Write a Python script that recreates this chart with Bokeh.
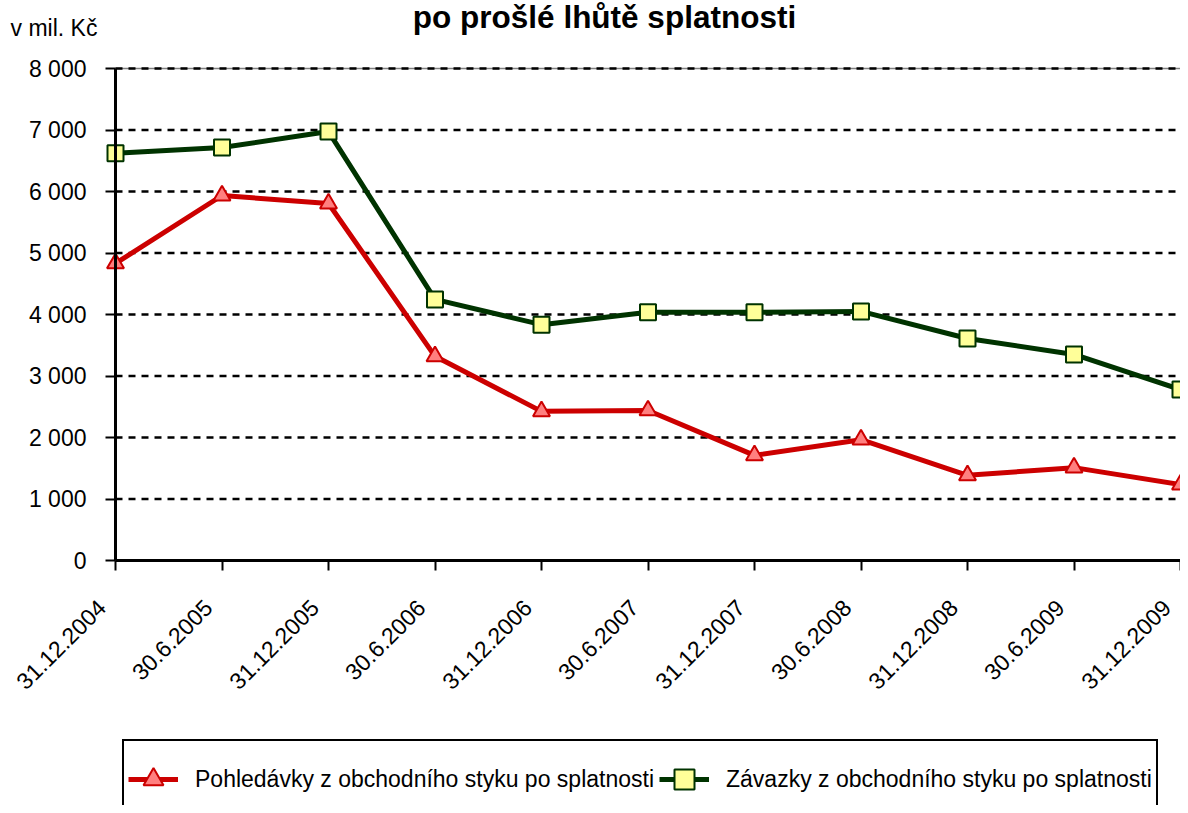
from bokeh.plotting import figure
from bokeh.models import Range1d, FixedTicker, Legend, LegendItem, Label, LinearAxis
from bokeh.core.properties import value
from bokeh.embed import file_html
from bokeh.resources import INLINE
import math

dates = ["31.12.2004", "30.6.2005", "31.12.2005", "30.6.2006", "31.12.2006",
         "30.6.2007", "31.12.2007", "30.6.2008", "31.12.2008", "30.6.2009", "31.12.2009"]
pohledavky = [4830, 5935, 5805, 3320, 2425, 2440, 1710, 1965, 1385, 1510, 1235]
zavazky = [6620, 6715, 6975, 4245, 3835, 4035, 4035, 4050, 3610, 3350, 2780]
y_ticks = [0, 1000, 2000, 3000, 4000, 5000, 6000, 7000, 8000]

label_p = "Pohledávky z obchodního styku po splatnosti"
label_z = "Závazky z obchodního styku po splatnosti"
title_text = "po prošlé lhůtě splatnosti"
unit_text = "v mil. Kč"

FONT = "Liberation Sans"
FS = "23px"
W, H = 1180, 805
xs = list(range(len(dates)))

# layout: the frame covers the whole canvas; axes sit at fixed locations
x0_px, x_step = 115, (W - 115) / (len(dates) - 1)
y0_px, y_scale = 560, (560 - 68) / 8000
x_start = -x0_px / x_step
y_end = y0_px / y_scale
y_start = -(H - y0_px) / y_scale

p = figure(width=W, height=H, output_backend="svg", toolbar_location=None,
           x_range=Range1d(x_start, len(dates) - 1), y_range=Range1d(y_start, y_end),
           x_axis_type=None, y_axis_type=None,
           min_border=0, min_border_left=0, min_border_right=0,
           min_border_top=0, min_border_bottom=0)
p.outline_line_color = None
p.background_fill_color = "white"
p.border_fill_color = "white"
p.grid.visible = False

# gridlines (dashed) across the plot area
grid_y = y_ticks[1:]
p.segment(x0=[0], x1=[len(dates) - 1], y0=[8000], y1=[8000],
          line_color="#808080", line_width=1.5)
p.segment(x0=[0] * len(grid_y), x1=[len(dates) - 1] * len(grid_y), y0=grid_y, y1=grid_y,
          line_color="black", line_width=2.5, line_dash="7 6")

# axes
xa = LinearAxis(fixed_location=0)
xa.ticker = FixedTicker(ticks=xs)
xa.major_label_text_font_size = "0px"
xa.major_label_text_color = None
xa.bounds = (0, len(dates) - 1)
xa.axis_line_width = 3
xa.major_tick_line_width = 2
xa.major_tick_out = 10
xa.major_tick_in = 0
xa.minor_tick_line_color = None
p.add_layout(xa, "below")

# rotated category labels, anchored under each tick
p.text(x=xs, y=[0] * len(xs), text=dates, angle=math.pi / 4,
       text_align="right", text_baseline="middle", x_offset=-14, y_offset=43,
       text_font=value(FONT), text_font_size=FS, text_color="black")

ya = LinearAxis(fixed_location=0)
ya.ticker = FixedTicker(ticks=y_ticks)
ya.major_label_overrides = {t: f"{t:,}".replace(",", " ") for t in y_ticks}
ya.bounds = (0, 8000)
ya.axis_line_width = 3
ya.major_tick_line_width = 2
ya.major_tick_out = 10
ya.major_tick_in = 0
ya.minor_tick_line_color = None
ya.major_label_text_font = FONT
ya.major_label_text_font_size = FS
ya.major_label_text_color = "black"
ya.major_label_standoff = 19
p.add_layout(ya, "left")

# series
lz = p.line(xs, zavazky, line_color="#003300", line_width=5)
sz = p.scatter(xs, zavazky, marker="square", size=16, fill_color="#FFFF99",
               line_color="#003300", line_width=2)
lp = p.line(xs, pohledavky, line_color="#CC0000", line_width=5)
sp = p.scatter(xs, pohledavky, marker="triangle", size=17, fill_color="#FF7F7F",
               line_color="#CC0000", line_width=2)

legend = Legend(items=[LegendItem(label=label_p, renderers=[lp, sp]),
                       LegendItem(label=label_z, renderers=[lz, sz])],
                orientation="horizontal", location=(122, H - 819))
legend.border_line_color = "black"
legend.border_line_alpha = 1.0
legend.border_line_width = 2
legend.background_fill_color = "white"
legend.background_fill_alpha = 1.0
legend.padding = 4
legend.spacing = 5
legend.margin = 0
legend.glyph_width = 50
legend.glyph_height = 68
legend.label_height = 68
legend.label_standoff = 17
legend.label_text_font = FONT
legend.label_text_font_size = FS
legend.label_text_color = "black"
p.add_layout(legend, "center")

p.add_layout(Label(x=604, y=H - 16, x_units="screen", y_units="screen", text=title_text,
                   text_font=FONT, text_font_size="31.5px", text_font_style="bold",
                   text_align="center", text_baseline="middle", text_color="black"))
p.add_layout(Label(x=10, y=H - 27, x_units="screen", y_units="screen", text=unit_text,
                   text_font=FONT, text_font_size=FS,
                   text_align="left", text_baseline="middle", text_color="black"))

open("out.html", "w").write(file_html(p, INLINE))
